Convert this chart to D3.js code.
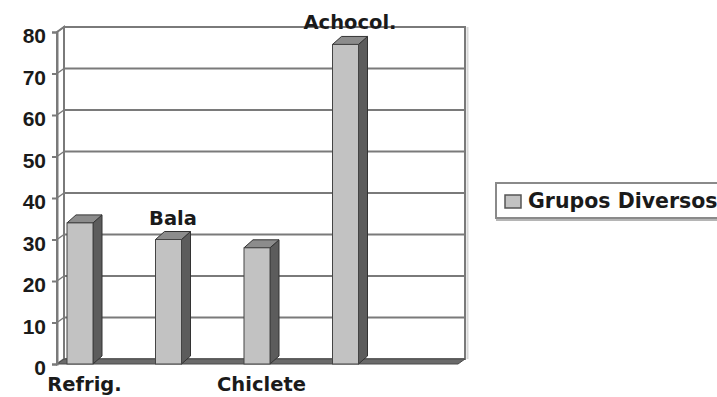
<!DOCTYPE html>
<html><head><meta charset="utf-8">
<script src="https://cdn.jsdelivr.net/npm/d3@7"></script>
<style>
html,body{margin:0;padding:0;background:#fff;}
svg{display:block;}
</style></head>
<body>
<svg id="c" width="717" height="397"></svg>
<script>
const categories = ["Refrig.", "Bala", "Chiclete", "Achocol."];
const values = [34, 30, 28, 77];
const seriesName = "Grupos Diversos";
const tickValues = [0, 10, 20, 30, 40, 50, 60, 70, 80];
const labelAbove = [false, true, false, true];

const svg = d3.select("#c");
const x0 = 57, x1 = 458;          // front plane of plot
const wallDx = 7, wallDy = -5;    // depth of walls
const barDx = 9, barDy = -8;      // depth of bars
const barW = 26;

const y = d3.scaleLinear().domain([0, 80]).range([364, 32]);
const x = d3.scaleBand().domain(categories).range([x0, 411]).paddingInner(0);

const grid = "#7a7a7a";

// back wall
svg.append("rect").attr("x", x0 + wallDx).attr("y", y(80) + wallDy)
  .attr("width", x1 - x0).attr("height", y(0) - y(80))
  .attr("fill", "#fff").attr("stroke", grid).attr("stroke-width", 2);
svg.append("line").attr("x1", x1 + wallDx + 2.5).attr("x2", x1 + wallDx + 2.5)
  .attr("y1", y(80) + wallDy).attr("y2", y(0) + wallDy)
  .attr("stroke", "#d8d8d8").attr("stroke-width", 2);

// left wall
svg.append("polygon")
  .attr("points", [[x0, y(80)], [x0 + wallDx, y(80) + wallDy], [x0 + wallDx, y(0) + wallDy], [x0, y(0)]].map(p => p.join(",")).join(" "))
  .attr("fill", "#fff").attr("stroke", grid).attr("stroke-width", 2);

// gridlines on back wall and left wall
tickValues.filter(t => t > 0).forEach(t => {
  svg.append("line").attr("x1", x0 + wallDx).attr("x2", x1 + wallDx)
    .attr("y1", y(t) + wallDy).attr("y2", y(t) + wallDy)
    .attr("stroke", grid).attr("stroke-width", 2);
  svg.append("line").attr("x1", x0).attr("x2", x0 + wallDx)
    .attr("y1", y(t)).attr("y2", y(t) + wallDy)
    .attr("stroke", grid).attr("stroke-width", 1.5);
});

// floor
svg.append("polygon")
  .attr("points", [[x0, y(0)], [x0 + wallDx, y(0) + wallDy], [x1 + wallDx, y(0) + wallDy], [x1, y(0)]].map(p => p.join(",")).join(" "))
  .attr("fill", "#6a6a6a").attr("stroke", "#4a4a4a").attr("stroke-width", 1);

// y axis
const axis = d3.axisLeft(y).tickValues(tickValues).tickSize(5).tickPadding(6).tickFormat(d3.format("d"));
const ag = svg.append("g").attr("transform", `translate(${x0},0)`).call(axis);
ag.select(".domain").attr("stroke", grid).attr("stroke-width", 2);
ag.selectAll(".tick line").attr("stroke", grid).attr("stroke-width", 2);
ag.selectAll(".tick text")
  .attr("font-family", "'Liberation Sans', Arial, sans-serif")
  .attr("font-weight", "bold").attr("font-size", 21)
  .attr("fill", "#1a1a1a").attr("dy", "0.5em");

// bars
const bars = svg.append("g");
categories.forEach((c, i) => {
  const bx = x(c) + 10, top = y(values[i]), bot = y(0);
  const g = bars.append("g");
  g.append("polygon")
    .attr("points", [[bx + barW, top], [bx + barW + barDx, top + barDy], [bx + barW + barDx, bot + barDy], [bx + barW, bot]].map(p => p.join(",")).join(" "))
    .attr("fill", "#5c5c5c").attr("stroke", "#333").attr("stroke-width", 1);
  g.append("polygon")
    .attr("points", [[bx, top], [bx + barDx, top + barDy], [bx + barW + barDx, top + barDy], [bx + barW, top]].map(p => p.join(",")).join(" "))
    .attr("fill", "#8c8c8c").attr("stroke", "#333").attr("stroke-width", 1);
  g.append("rect").attr("x", bx).attr("y", top).attr("width", barW).attr("height", bot - top)
    .attr("fill", "#c2c2c2").attr("stroke", "#444").attr("stroke-width", 1);
});

// category labels
categories.forEach((c, i) => {
  const cx = x(c) + 10 + (barW + barDx) / 2;
  const ty = labelAbove[i] ? y(values[i]) - 15 : 391;
  svg.append("text").attr("x", cx).attr("y", ty)
    .attr("text-anchor", "middle")
    .attr("font-family", "'DejaVu Sans', sans-serif")
    .attr("font-weight", "bold").attr("font-size", 19.5)
    .attr("fill", "#1a1a1a").text(c);
});

// legend
const lg = svg.append("g");
lg.append("rect").attr("x", 496).attr("y", 183).attr("width", 240).attr("height", 35)
  .attr("fill", "#fff").attr("stroke", "#8a8a8a").attr("stroke-width", 2);
lg.append("line").attr("x1", 496).attr("x2", 740).attr("y1", 220).attr("y2", 220)
  .attr("stroke", "#b5b5b5").attr("stroke-width", 2);
lg.append("rect").attr("x", 505).attr("y", 195).attr("width", 16).attr("height", 13)
  .attr("fill", "#c2c2c2").attr("stroke", "#555").attr("stroke-width", 1.5);
lg.append("text").attr("x", 528).attr("y", 208)
  .attr("font-family", "'DejaVu Sans', sans-serif")
  .attr("font-weight", "bold").attr("font-size", 20.5)
  .attr("fill", "#1a1a1a").text(seriesName);
</script>
</body></html>
